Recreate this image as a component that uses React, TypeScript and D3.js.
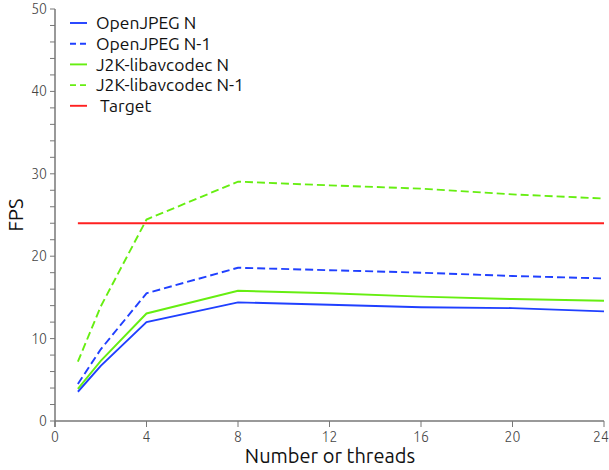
import React from "react";
import * as d3 from "d3";

const threads = [1, 2, 4, 8, 12, 16, 20, 24];
const openjpegN = [3.55, 6.7, 12.0, 14.4, 14.1, 13.8, 13.7, 13.3];
const openjpegN1 = [4.5, 8.7, 15.5, 18.6, 18.3, 18.0, 17.6, 17.3];
const j2kN = [3.9, 7.3, 13.05, 15.8, 15.5, 15.1, 14.8, 14.6];
const j2kN1 = [7.2, 13.9, 24.45, 29.05, 28.6, 28.2, 27.5, 27.0];
const targetX = [1, 24];
const targetY = [24, 24];
const xTicks = [0, 4, 8, 12, 16, 20, 24];
const yMajor = [0, 10, 20, 30, 40, 50];
const yMinor = d3.range(0, 51, 2);

const series = [
  { name: "OpenJPEG N", x: threads, y: openjpegN, color: "#2040ff", dash: "" },
  { name: "OpenJPEG N-1", x: threads, y: openjpegN1, color: "#2040ff", dash: "8,4" },
  { name: "J2K-libavcodec N", x: threads, y: j2kN, color: "#66ee11", dash: "" },
  { name: "J2K-libavcodec N-1", x: threads, y: j2kN1, color: "#66ee11", dash: "8,4" },
  { name: " Target", x: targetX, y: targetY, color: "#ff2020", dash: "" },
];

export default function App() {
  const W = 609, H = 470;
  const x = d3.scaleLinear().domain([0, 24]).range([55, 604]);
  const y = d3.scaleLinear().domain([0, 50]).range([421, 9]);
  const font = "Ubuntu, 'Open Sans', 'DejaVu Sans', sans-serif";
  const axisColor = "#777";
  return (
    <svg width={W} height={H} style={{ position: "absolute", left: 0, top: 0, background: "#fff" }}>
      {/* axes */}
      <line x1={x(0)} x2={x(0)} y1={y(50)} y2={y(0) + 6} stroke={axisColor} strokeWidth={1.5} />
      <line x1={x(0)} x2={x(24)} y1={y(0)} y2={y(0)} stroke={axisColor} strokeWidth={1.5} />
      {yMinor.map((v) => (
        <line key={"ym" + v} x1={x(0) - 5} x2={x(0)} y1={y(v)} y2={y(v)} stroke={axisColor} strokeWidth={1} />
      ))}
      {yMajor.map((v) => (
        <text key={"yl" + v} x={x(0) - 8} y={y(v)} dy="0.35em" textAnchor="end" fontFamily={font} fontSize={14} fontWeight={300} fill="#444">
          {v}
        </text>
      ))}
      {xTicks.map((v) => (
        <g key={"xt" + v}>
          <line x1={x(v)} x2={x(v)} y1={y(0)} y2={y(0) + 6} stroke={axisColor} strokeWidth={1} />
          <text x={Math.min(x(v), 601)} y={y(0) + 21} textAnchor="middle" fontFamily={font} fontSize={14} fontWeight={300} fill="#444">
            {v}
          </text>
        </g>
      ))}
      <text x={330} y={463} textAnchor="middle" fontFamily={font} fontSize={20} fill="#111">
        Number or threads
      </text>
      <text transform="translate(23,215) rotate(-90)" textAnchor="middle" fontFamily={font} fontSize={20} fill="#111">
        FPS
      </text>
      {/* series */}
      {series.map((s) => {
        const pts: [number, number][] = s.x.map((xv, i) => [x(xv), y(s.y[i])]);
        const path = d3.line()(pts) || "";
        return (
          <path key={s.name} d={path} fill="none" stroke={s.color} strokeWidth={1.9} strokeDasharray={s.dash || undefined} />
        );
      })}
      {/* legend */}
      {series.map((s, i) => {
        const ly = 23 + i * 20.7;
        return (
          <g key={"lg" + s.name}>
            <line x1={70} x2={87} y1={ly} y2={ly} stroke={s.color} strokeWidth={1.9} strokeDasharray={s.dash ? "6,4" : undefined} />
            <text x={96} y={ly} dy="0.35em" fontFamily={font} fontSize={17.5} fill="#111" style={{ whiteSpace: "pre" }}>
              {s.name}
            </text>
          </g>
        );
      })}
    </svg>
  );
}
